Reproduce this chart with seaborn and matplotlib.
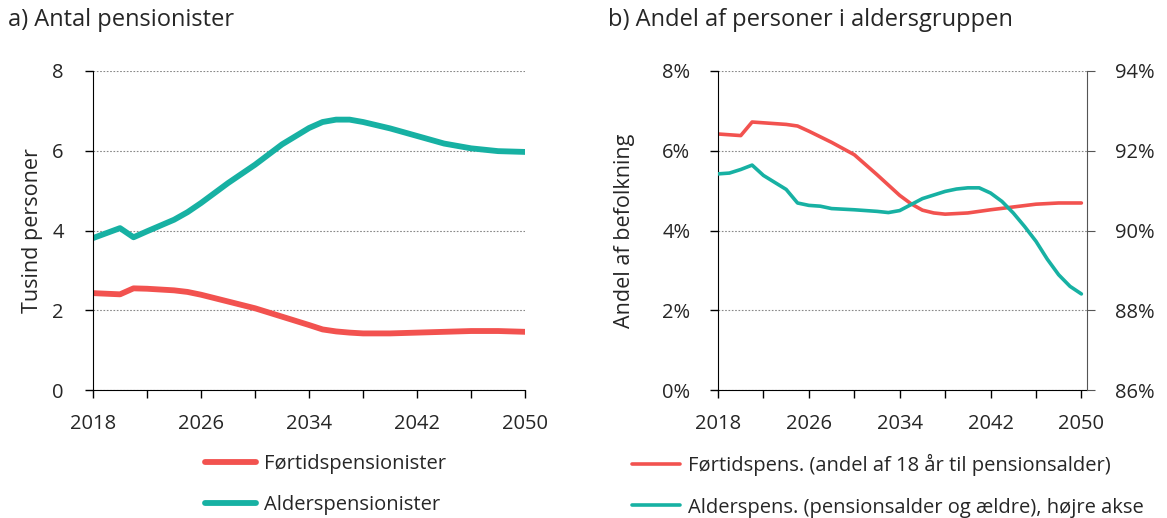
import numpy as np
import pandas as pd
import seaborn as sns
import matplotlib.pyplot as plt
from matplotlib.lines import Line2D
from matplotlib.ticker import FuncFormatter

# data
aar_a = [2018, 2020, 2021, 2022, 2024, 2025, 2026, 2028, 2030, 2032, 2034, 2035,
         2036, 2037, 2038, 2040, 2042, 2044, 2046, 2048, 2050]
foertid_a = [2.43, 2.40, 2.55, 2.54, 2.50, 2.46, 2.39, 2.22, 2.05, 1.84, 1.63, 1.52,
             1.47, 1.44, 1.42, 1.42, 1.44, 1.46, 1.48, 1.48, 1.46]
alder_a = [3.81, 4.06, 3.83, 3.98, 4.27, 4.46, 4.69, 5.19, 5.65, 6.16, 6.57, 6.72,
           6.78, 6.78, 6.72, 6.56, 6.37, 6.18, 6.06, 5.99, 5.97]

aar_b1 = [2018, 2020, 2021, 2022, 2024, 2025, 2026, 2028, 2030, 2032, 2034, 2035,
          2036, 2037, 2038, 2040, 2042, 2044, 2046, 2048, 2050]
foertid_b = [6.42, 6.38, 6.72, 6.70, 6.66, 6.62, 6.49, 6.21, 5.90, 5.40, 4.88, 4.67,
             4.51, 4.44, 4.41, 4.44, 4.52, 4.59, 4.66, 4.69, 4.69]
aar_b2 = [2018, 2019, 2020, 2021, 2022, 2024, 2025, 2026, 2027, 2028, 2030, 2032,
          2033, 2034, 2035, 2036, 2038, 2039, 2040, 2041, 2042, 2043, 2044, 2045,
          2046, 2047, 2048, 2049, 2050]
alder_b = [91.42, 91.44, 91.53, 91.64, 91.38, 91.03, 90.69, 90.63, 90.61, 90.55,
           90.52, 90.48, 90.45, 90.50, 90.65, 90.80, 90.98, 91.04, 91.07, 91.07,
           90.94, 90.73, 90.44, 90.10, 89.73, 89.28, 88.89, 88.60, 88.41]

x_ticks = list(range(2018, 2051, 4))
x_labels = ['2018', '', '2026', '', '2034', '', '2042', '', '2050']

roed = '#F2524F'
groen = '#17B1A3'

sns.set_style('white')
plt.rcParams['font.family'] = ['Open Sans', 'DejaVu Sans']
fs = 14.5

fig = plt.figure(figsize=(11.67, 5.18), dpi=100)
ax1 = fig.add_axes([0.0797, 0.247, 0.3703, 0.616])
ax2 = fig.add_axes([0.6153, 0.247, 0.3162, 0.616])
ax3 = ax2.twinx()

df_a = pd.DataFrame({'aar': aar_a, 'f': foertid_a, 'a': alder_a})
sns.lineplot(data=df_a, x='aar', y='f', ax=ax1, color=roed, lw=4.2, solid_capstyle='round')
sns.lineplot(data=df_a, x='aar', y='a', ax=ax1, color=groen, lw=4.2, solid_capstyle='round')

sns.lineplot(x=aar_b1, y=foertid_b, ax=ax2, color=roed, lw=2.6)
sns.lineplot(x=aar_b2, y=alder_b, ax=ax3, color=groen, lw=2.6)

def stil(ax, xmax):
    ax.set_xlim(2018, xmax)
    ax.set_xticks(x_ticks)
    ax.set_xticklabels(x_labels)
    for s in ['top', 'right']:
        ax.spines[s].set_visible(False)
    ax.spines['left'].set_color('black')
    ax.spines['bottom'].set_color('black')
    ax.tick_params(axis='both', direction='out', length=6, width=1, color='black',
                   labelsize=fs, left=True, bottom=True)
    ax.tick_params(axis='x', pad=11)
    ax.yaxis.grid(True, ls=(0, (1.5, 1.5)), color='#888888', lw=0.8)
    ax.set_axisbelow(True)
    ax.set_xlabel('')

stil(ax1, 2050)
ax1.set_ylim(0, 8)
ax1.set_yticks([0, 2, 4, 6, 8])
ax1.set_ylabel('Tusind personer', fontsize=15.5)
ax1.yaxis.set_label_coords(-0.116, 0.5)
ax1.tick_params(axis='y', pad=15)

stil(ax2, 2050.5)
ax2.set_ylim(0, 8)
ax2.set_yticks([0, 2, 4, 6, 8])
ax2.yaxis.set_major_formatter(FuncFormatter(lambda v, p: f'{v:.0f}%'))
ax2.set_ylabel('Andel af befolkning', fontsize=15.5)
ax2.yaxis.set_label_coords(-0.225, 0.5)
ax2.tick_params(axis='y', pad=14)

ax3.set_ylim(86, 94)
ax3.set_yticks([86, 88, 90, 92, 94])
ax3.yaxis.set_major_formatter(FuncFormatter(lambda v, p: f'{v:.0f}%'))
for s in ['top', 'left', 'bottom']:
    ax3.spines[s].set_visible(False)
ax3.spines['right'].set_color('#555555')
ax3.tick_params(axis='y', direction='out', length=6, color='#555555', labelsize=fs, pad=14, right=True)
ax3.set_ylabel('')

fig.text(0.007, 0.962, 'a) Antal pensionister', fontsize=17, va='center')
fig.text(0.521, 0.962, 'b) Andel af personer i aldersgruppen', fontsize=17, va='center')

h_a = [Line2D([], [], color=roed, lw=4.2, solid_capstyle='round'),
       Line2D([], [], color=groen, lw=4.2, solid_capstyle='round')]
fig.legend(h_a, ['Førtidspensionister', 'Alderspensionister'], loc='upper left',
           bbox_to_anchor=(0.176, 0.123), frameon=False, fontsize=fs,
           handlelength=2.5, handletextpad=0.4, labelspacing=1.05, borderpad=0,
           borderaxespad=0)

h_b = [Line2D([], [], color=roed, lw=2.6), Line2D([], [], color=groen, lw=2.6)]
fig.legend(h_b, ['Førtidspens. (andel af 18 år til pensionsalder)',
                 'Alderspens. (pensionsalder og ældre), højre akse'],
           loc='upper left', bbox_to_anchor=(0.5416, 0.123), frameon=False, fontsize=fs,
           handlelength=2.4, handletextpad=0.4, labelspacing=1.05, borderpad=0,
           borderaxespad=0)

fig.savefig('out.png', dpi=100)
